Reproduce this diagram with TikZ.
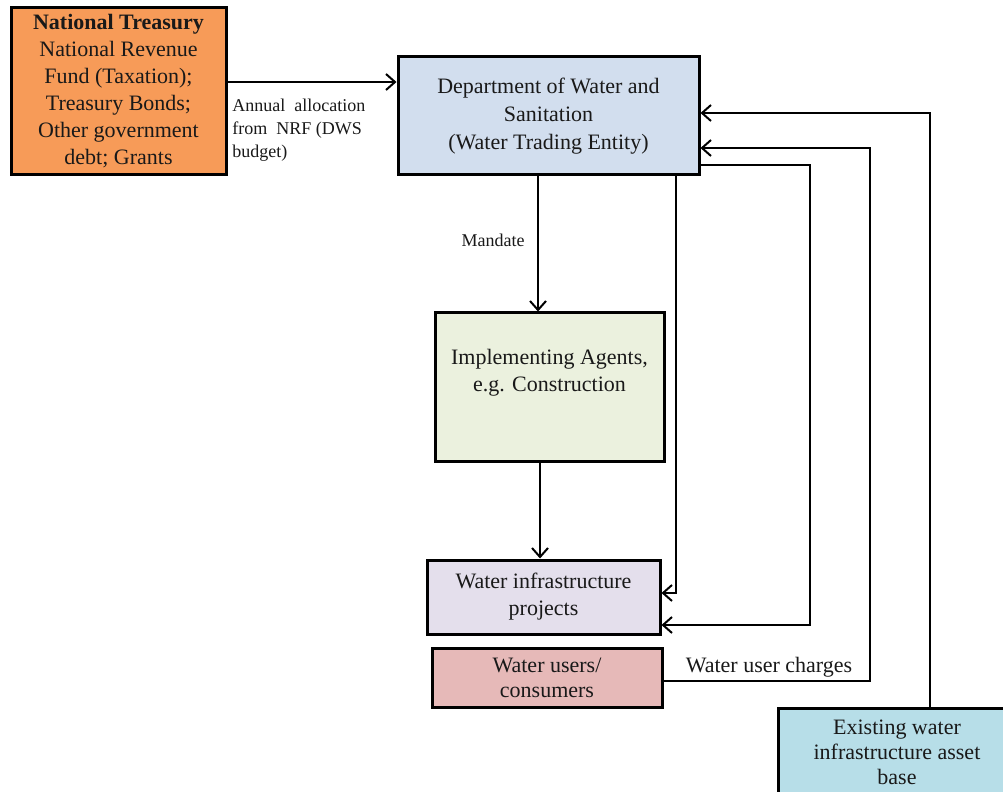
\documentclass[tikz,border=0pt]{standalone}
\usepackage{fontspec}
\setmainfont{Liberation Serif}
\usetikzlibrary{arrows.meta}
\definecolor{ntfill}{RGB}{247,155,88}
\definecolor{dwsfill}{RGB}{210,222,238}
\definecolor{iafill}{RGB}{235,241,222}
\definecolor{projfill}{RGB}{228,223,236}
\definecolor{userfill}{RGB}{230,185,184}
\definecolor{exfill}{RGB}{183,222,232}
\definecolor{ink}{RGB}{25,25,25}
\tikzset{
  box/.style={draw=black, line width=1.5pt, inner sep=0pt, align=center, text=ink,
    font=\fontsize{11}{13.5}\selectfont},
  txt/.style={inner sep=0pt, align=center, text=ink, font=\fontsize{11}{13.5}\selectfont},
  small/.style={inner sep=0pt, align=left, text=ink, font=\fontsize{9}{11.5}\selectfont},
  arr/.style={line width=1pt, draw=black, -{Straight Barb[length=4.5pt,width=8pt,line width=1pt]}},
  conn/.style={line width=1pt, draw=black}
}
\begin{document}
\begin{tikzpicture}[x=0.5pt,y=-0.5pt]
\clip (0,0) rectangle (1003,792);
\fill[white] (0,0) rectangle (1003,792);

% nodes
\node[box, fill=ntfill, minimum width=107.5pt, minimum height=83.5pt] (nt) at (118.5,91.5)
  {\textbf{National Treasury}\\National Revenue\\Fund (Taxation);\\Treasury Bonds;\\Other government\\debt; Grants};
\node[box, fill=dwsfill, minimum width=150.5pt, minimum height=59pt, font=\fontsize{11}{14}\selectfont] (dws) at (548.5,116)
  {Department of Water and\\Sanitation\\(Water Trading Entity)};
\node[box, fill=iafill, minimum width=114.5pt, minimum height=74pt] (ia) at (549.5,387) {};
\node[txt] (iatext) at (549.5,373) {Implementing Agents,\\e.g. Construction};
\node[box, fill=projfill, minimum width=116.5pt, minimum height=37pt] (proj) at (543.5,597)
  {Water infrastructure\\projects};
\node[box, fill=userfill, minimum width=115pt, minimum height=29.5pt, font=\fontsize{11}{12.5}\selectfont] (users) at (547,677.5)
  {Water users/\\consumers};
\node[box, fill=exfill, minimum width=119pt, minimum height=44pt, font=\fontsize{11}{12.5}\selectfont] (exist) at (897,752)
  {Existing water\\infrastructure asset\\base};

% labels
\node[small, anchor=west] (annual) at (232,130) {Annual \ allocation\\from \ NRF (DWS\\budget)};
\node[small] (mandate) at (493,240) {Mandate};
\node[txt] (charges) at (769,667) {Water user charges};

% helper coordinates
\coordinate (a1) at (300,82);
\coordinate (m1) at (538,250);
\coordinate (c3) at (676,593);
\coordinate (c4a) at (810,165);
\coordinate (c4b) at (810,625);
\coordinate (c5) at (540,500);
\coordinate (c6a) at (870,681);
\coordinate (c6b) at (870,148);
\coordinate (c7) at (930,113);

% connectors
\draw[arr] (nt.east |- a1) -- (dws.west |- a1);
\draw[arr] (dws.south -| m1) -- (ia.north -| m1);
\draw[arr] (dws.south -| c3) -- (c3) -- (proj.east |- c3);
\draw[arr] (dws.east |- c4a) -- (c4a) -- (c4b) -- (proj.east |- c4b);
\draw[arr] (ia.south -| c5) -- (proj.north -| c5);
\draw[arr] (users.east |- c6a) -- (c6a) -- (c6b) -- (dws.east |- c6b);
\draw[arr] (exist.north -| c7) -- (c7) -- (dws.east |- c7);
\end{tikzpicture}
\end{document}
